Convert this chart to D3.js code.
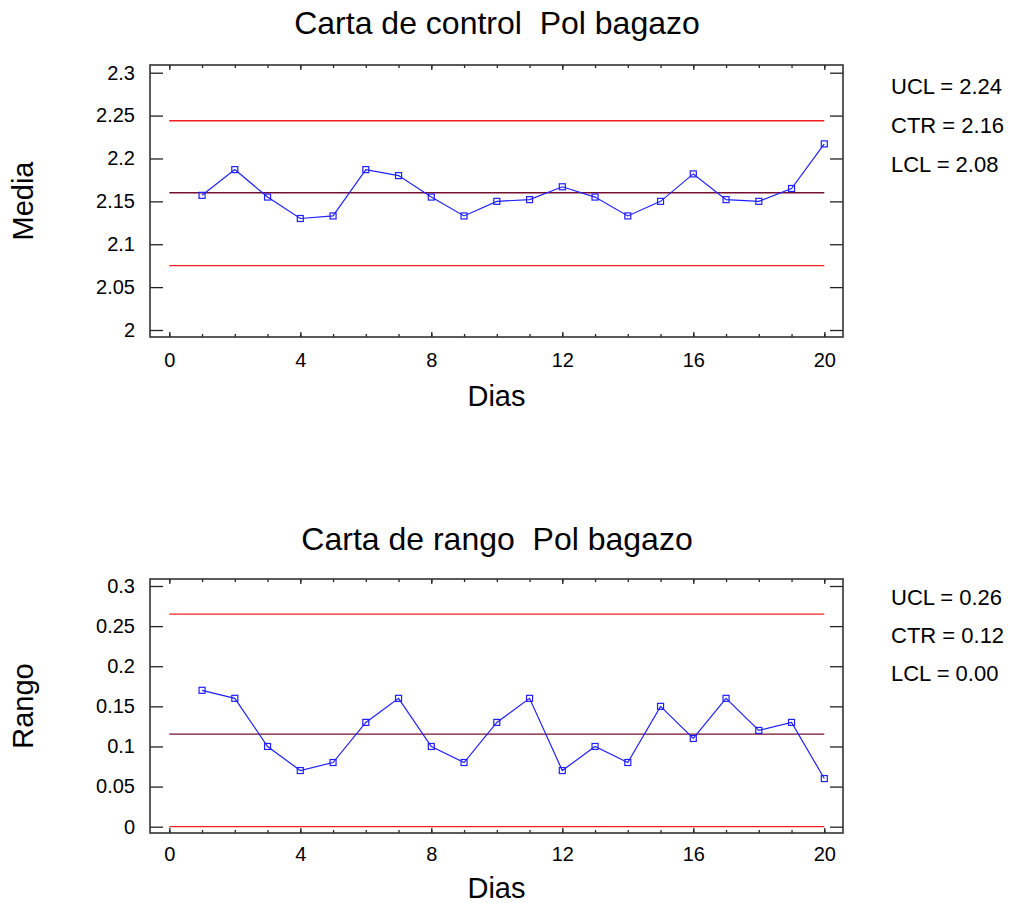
<!DOCTYPE html>
<html>
<head>
<meta charset="utf-8">
<script src="https://cdn.jsdelivr.net/npm/d3@7"></script>
<style>
  body { margin: 0; background: #fff; }
  text { font-family: "Liberation Sans", Arial, sans-serif; fill: #000; white-space: pre; }
</style>
</head>
<body>
<script>

// days on the x axis
var days = [1, 2, 3, 4, 5, 6, 7, 8, 9, 10, 11, 12, 13, 14, 15, 16, 17, 18, 19, 20];
var dayTicks = [0, 4, 8, 12, 16, 20];

// sample means
var means = [2.157, 2.187, 2.155, 2.130, 2.133, 2.187, 2.180, 2.155, 2.133, 2.150,
             2.152, 2.167, 2.155, 2.133, 2.150, 2.182, 2.152, 2.150, 2.165, 2.217];
var meanLimits = [2.244, 2.160, 2.075];          // UCL, CTR, LCL
var meanLabels = ["UCL = 2.24", "CTR = 2.16", "LCL = 2.08"];
var meanTicks = [2, 2.05, 2.1, 2.15, 2.2, 2.25, 2.3];

// sample ranges
var ranges = [0.17, 0.16, 0.10, 0.07, 0.08, 0.13, 0.16, 0.10, 0.08, 0.13,
              0.16, 0.07, 0.10, 0.08, 0.15, 0.11, 0.16, 0.12, 0.13, 0.06];
var rangeLimits = [0.265, 0.1155, 0];
var rangeLabels = ["UCL = 0.26", "CTR = 0.12", "LCL = 0.00"];
var rangeTicks = [0, 0.05, 0.1, 0.15, 0.2, 0.25, 0.3];

var w = 1010;
var h = 903;
var left = 150;
var right = 843;

var svg = d3.select("body")
            .append("svg")
            .attr("width", w)
            .attr("height", h);

// x scale is shared by both charts
var xScale = d3.scaleLinear()
               .domain([0, 20])
               .range([169.3, 824.3]);

drawChart({
  title: "Carta de control  Pol bagazo",
  yTitle: "Media",
  values: means,
  limits: meanLimits,
  labels: meanLabels,
  ticks: meanTicks,
  top: 65, bottom: 337,
  yRange: [330, 72.7],
  titleY: 34, tickPad: 16, xTitleY: 406, labelY: [94, 133, 172]
});

drawChart({
  title: "Carta de rango  Pol bagazo",
  yTitle: "Rango",
  values: ranges,
  limits: rangeLimits,
  labels: rangeLabels,
  ticks: rangeTicks,
  top: 579, bottom: 833,
  yRange: [826.7, 586],
  titleY: 550, tickPad: 14, xTitleY: 898, labelY: [605, 643, 681]
});

function drawChart(c) {

  var yScale = d3.scaleLinear()
                 .domain([c.ticks[0], c.ticks[c.ticks.length - 1]])
                 .range(c.yRange);

  var g = svg.append("g");

  // chart title (two spaces kept)
  g.append("text")
   .attr("xml:space", "preserve")
   .attr("x", 497)
   .attr("y", c.titleY)
   .attr("text-anchor", "middle")
   .style("font-size", "32px")
   .text(c.title);

  // control lines: UCL red, center dark red, LCL red
  g.selectAll(".limit")
   .data(c.limits)
   .enter()
   .append("line")
   .attr("class", "limit")
   .attr("x1", xScale(0))
   .attr("x2", xScale(20))
   .attr("y1", d => yScale(d))
   .attr("y2", d => yScale(d))
   .style("stroke", (d, i) => i == 1 ? "#741030" : "#f02020")
   .style("stroke-width", 1.3);

  // left axis with the labels, ticks pointing inwards
  g.append("g")
   .attr("transform", "translate(" + left + ",0)")
   .call(d3.axisLeft(yScale).tickValues(c.ticks).tickSize(-13).tickPadding(15).tickFormat(d => d));

  // right axis, ticks only
  g.append("g")
   .attr("transform", "translate(" + right + ",0)")
   .call(d3.axisRight(yScale).tickValues(c.ticks).tickSize(-13).tickFormat(""));

  // bottom axis, major + minor ticks
  g.append("g")
   .attr("transform", "translate(0," + c.bottom + ")")
   .call(d3.axisBottom(xScale).tickValues(dayTicks).tickSize(-5).tickPadding(c.tickPad));
  g.append("g")
   .attr("transform", "translate(0," + c.bottom + ")")
   .call(d3.axisBottom(xScale).tickValues(d3.range(0, 21)).tickSize(-3).tickFormat(""));

  // top axis
  g.append("g")
   .attr("transform", "translate(0," + c.top + ")")
   .call(d3.axisTop(xScale).tickValues(dayTicks).tickSize(-5).tickFormat(""));
  g.append("g")
   .attr("transform", "translate(0," + c.top + ")")
   .call(d3.axisTop(xScale).tickValues(d3.range(0, 21)).tickSize(-3).tickFormat(""));

  g.selectAll(".domain").remove();
  g.selectAll(".tick line").style("stroke", "#222").style("stroke-width", 1.3);
  g.selectAll(".tick text").style("font-size", "20px").style("font-family", "Liberation Sans, Arial, sans-serif");

  // frame around the plot
  g.append("rect")
   .attr("x", left)
   .attr("y", c.top)
   .attr("width", right - left)
   .attr("height", c.bottom - c.top)
   .style("fill", "none")
   .style("stroke", "#333")
   .style("stroke-width", 1.6);

  // axis titles
  g.append("text")
   .attr("transform", "translate(33," + ((c.top + c.bottom) / 2) + ") rotate(-90)")
   .attr("text-anchor", "middle")
   .style("font-size", "29px")
   .text(c.yTitle);

  g.append("text")
   .attr("x", (left + right) / 2)
   .attr("y", c.xTitleY)
   .attr("text-anchor", "middle")
   .style("font-size", "29px")
   .text("Dias");

  // limit values on the right
  g.selectAll(".lab")
   .data(c.labels)
   .enter()
   .append("text")
   .attr("class", "lab")
   .attr("x", 891)
   .attr("y", (d, i) => c.labelY[i])
   .style("font-size", "22px")
   .text(d => d);

  // the line and square markers
  var line = d3.line()
               .x((d, i) => xScale(days[i]))
               .y(d => yScale(d));

  g.append("path")
   .datum(c.values)
   .attr("d", line)
   .style("fill", "none")
   .style("stroke", "#2020ff")
   .style("stroke-width", 1.2);

  g.selectAll(".pt")
   .data(c.values)
   .enter()
   .append("rect")
   .attr("class", "pt")
   .attr("x", (d, i) => xScale(days[i]) - 3)
   .attr("y", d => yScale(d) - 3)
   .attr("width", 6)
   .attr("height", 6)
   .style("fill", "none")
   .style("stroke", "#2020ff")
   .style("stroke-width", 1.2);
}

</script>
</body>
</html>
